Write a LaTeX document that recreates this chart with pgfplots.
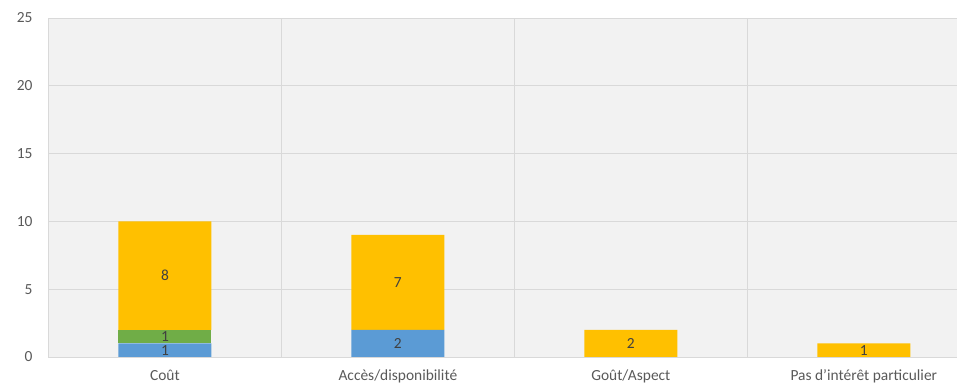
\documentclass[border=0pt]{standalone}
\usepackage{pgfplots}
\pgfplotsset{compat=1.18}
\usepackage{fontspec}
\setmainfont{Carlito}
\definecolor{cblue}{HTML}{5B9BD5}
\definecolor{cgreen}{HTML}{70AD47}
\definecolor{cyellow}{HTML}{FFC000}
\definecolor{tickgray}{HTML}{595959}
\definecolor{labgray}{HTML}{404040}
\definecolor{gridgray}{HTML}{D9D9D9}
\definecolor{bg}{HTML}{F2F2F2}
\begin{document}
\begin{tikzpicture}
\path[use as bounding box] (0,0) rectangle (957bp,385bp);
\begin{axis}[
  at={(48bp,28bp)}, anchor=south west,
  scale only axis, width=909bp, height=339bp,
  ybar stacked, bar width=93bp,
  xmin=-0.502, xmax=3.40, ymin=0, ymax=25,
  ytick={0,5,...,25},
  xtick={0,1,2,3},
  xticklabels={Coût, Accès/disponibilité, Goût/Aspect, Pas d’intérêt particulier},
  minor xtick={0.5,1.5,2.5},
  xminorgrids, ymajorgrids,
  grid style={gridgray, line width=0.8bp},
  minor grid style={gridgray, line width=0.8bp},
  axis lines*=left,
  axis line style={gridgray, line width=0.8bp, -},
  major tick length=0pt, minor tick length=0pt,
  axis background/.style={fill=bg},
  tick label style={font=\fontsize{15.5}{18}\selectfont, text=tickgray},
  /pgf/number format/assume math mode=true,
  yticklabel style={xshift=-12bp},
  xticklabel style={yshift=-9.5bp},
  visualization depends on={rawy \as \rawy},
  nodes near coords={\ifdim\rawy pt>0.5pt\pgfmathprintnumber{\rawy}\fi},
  every node near coord/.append style={anchor=center,
     font=\fontsize{15.5}{18}\selectfont, text=labgray},
]
\addplot[fill=cblue, draw=none] coordinates {(0,1) (1,2) (2,0) (3,0)};
\addplot[fill=cgreen, draw=none] coordinates {(0,1) (1,0) (2,0) (3,0)};
\addplot[fill=cyellow, draw=none] coordinates {(0,8) (1,7) (2,2) (3,1)};
\end{axis}
\end{tikzpicture}
\end{document}
